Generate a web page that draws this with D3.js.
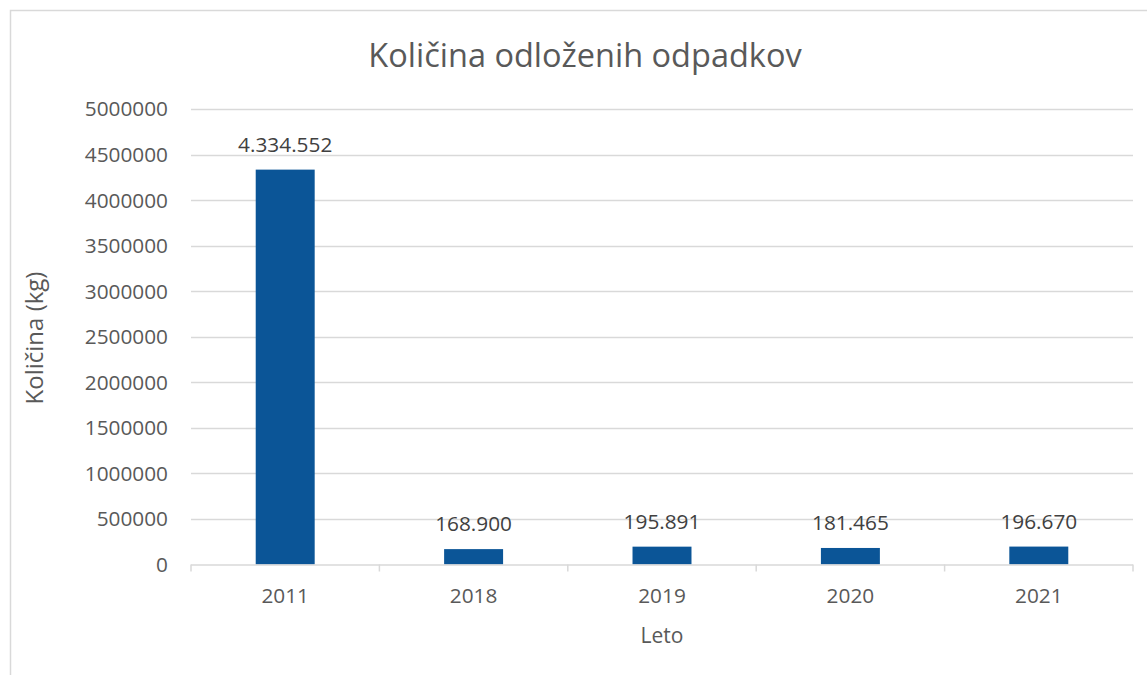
<!DOCTYPE html>
<html><head><meta charset="utf-8">
<script src="https://cdn.jsdelivr.net/npm/d3@7"></script>
<style>body{margin:0;background:#fff}svg{display:block}text{font-family:"Open Sans",sans-serif;fill:#595959}</style>
</head><body>
<svg id="c" width="1147" height="675"></svg>
<script>
const categories = ["2011","2018","2019","2020","2021"];
const values = [4334552,168900,195891,181465,196670];
const labels = ["4.334.552","168.900","195.891","181.465","196.670"];
const yTicks = [0,500000,1000000,1500000,2000000,2500000,3000000,3500000,4000000,4500000,5000000];
const title = "Količina odloženih odpadkov";
const xTitle = "Leto";
const yTitle = "Količina (kg)";

(function(){
const svg = d3.select("#c");
svg.append("rect").attr("x",10.5).attr("y",10.5).attr("width",1160).attr("height",700)
  .attr("fill","#fff").attr("stroke","#d9d9d9").attr("stroke-width",1.5);

const pLeft=191, pRight=1133, pTop=109, pBottom=564.5;
const x = d3.scaleBand().domain(categories).range([pLeft,pRight]).paddingInner(0.687).paddingOuter(0.3435);
const xb = d3.scaleBand().domain(categories).range([pLeft,pRight]);
const y = d3.scaleLinear().domain([0,5000000]).range([pBottom,pTop]);

svg.append("g").selectAll("line").data(yTicks.slice(1)).join("line")
  .attr("x1",pLeft).attr("x2",pRight).attr("y1",d=>Math.round(y(d))+0.5).attr("y2",d=>Math.round(y(d))+0.5)
  .attr("stroke","#d9d9d9").attr("stroke-width",1.5);

svg.append("g").selectAll("text").data(yTicks).join("text")
  .attr("x",168).attr("y",d=>y(d)).attr("dy","0.36em").attr("text-anchor","end")
  .attr("font-size",20.8).text(d=>d3.format("d")(d));

svg.append("g").selectAll("rect").data(values).join("rect")
  .attr("x",(d,i)=>x(categories[i])).attr("width",x.bandwidth())
  .attr("y",d=>y(d)).attr("height",d=>pBottom-y(d)).attr("fill","#0b5597");

svg.append("line").attr("x1",pLeft).attr("x2",pRight).attr("y1",pBottom+0.5).attr("y2",pBottom+0.5)
  .attr("stroke","#d9d9d9").attr("stroke-width",1.5);
const bounds = categories.map(c=>xb(c)).concat([pRight]);
svg.append("g").selectAll("line").data(bounds).join("line")
  .attr("x1",d=>d).attr("x2",d=>d).attr("y1",pBottom).attr("y2",pBottom+7)
  .attr("stroke","#d9d9d9").attr("stroke-width",1.5);

svg.append("g").selectAll("text").data(categories).join("text")
  .attr("x",d=>xb(d)+xb.bandwidth()/2).attr("y",603).attr("text-anchor","middle")
  .attr("font-size",20.8).text(d=>d);

svg.append("g").selectAll("text").data(values).join("text")
  .attr("x",(d,i)=>xb(categories[i])+xb.bandwidth()/2).attr("y",d=>y(d)-18).attr("text-anchor","middle")
  .attr("font-size",20.8).style("fill","#404040").text((d,i)=>labels[i]);

svg.append("text").attr("x",585).attr("y",67).attr("text-anchor","middle").attr("font-size",32.5).text(title);
svg.append("text").attr("x",662).attr("y",643).attr("text-anchor","middle").attr("font-size",21).text(xTitle);
svg.append("text").attr("transform","translate(43,338) rotate(-90)").attr("text-anchor","middle").attr("font-size",24).text(yTitle);
})();
</script>
</body></html>
